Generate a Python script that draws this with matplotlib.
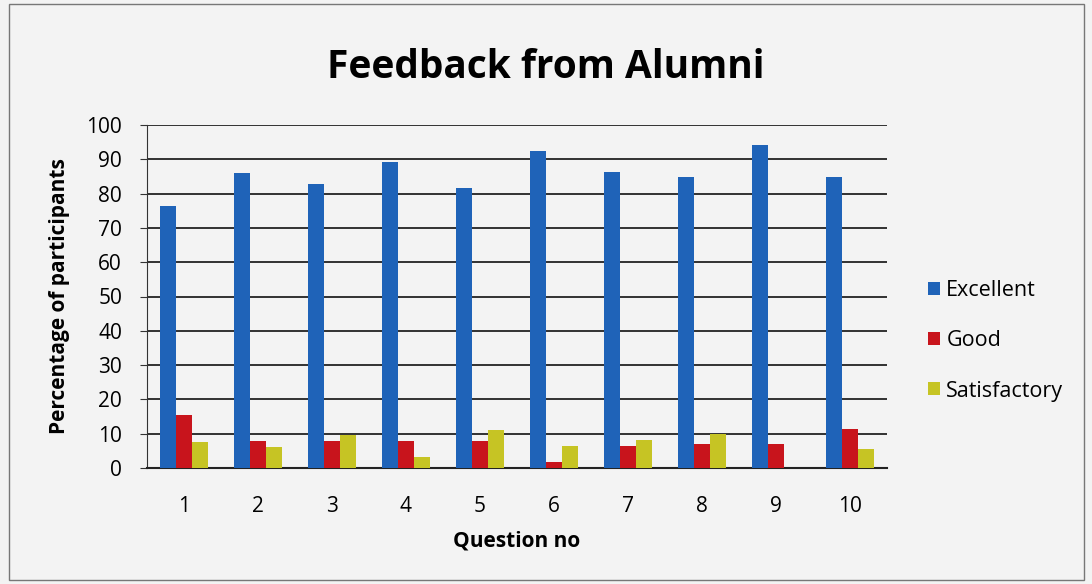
import numpy as np
import matplotlib.pyplot as plt
from matplotlib.patches import Rectangle

questions = ["1", "2", "3", "4", "5", "6", "7", "8", "9", "10"]
excellent = [76.5, 86, 82.7, 89.2, 81.5, 92.4, 86.3, 84.8, 94.3, 84.8]
good = [15.5, 8, 8, 8, 8, 1.8, 6.5, 7, 7, 11.5]
satisfactory = [7.7, 6.2, 9.5, 3.2, 11, 6.5, 8.3, 9.8, 0, 5.4]

series = [("Excellent", excellent, "#1f63b8"),
          ("Good", good, "#c8141c"),
          ("Satisfactory", satisfactory, "#c6c424")]

plt.rcParams['font.family'] = ['Open Sans', 'DejaVu Sans']

W, H = 1092, 584
fig = plt.figure(figsize=(W / 100, H / 100), dpi=100)
fig.patch.set_facecolor("#f3f3f3")
ax = fig.add_axes([147 / W, 1 - 468 / H, 740 / W, 343 / H])
ax.set_facecolor("#f3f3f3")

# outer chart border
fig.add_artist(Rectangle((9 / W, 4 / H), 1075 / W, 576 / H,
                         transform=fig.transFigure, fill=False,
                         edgecolor="#777777", linewidth=1))

x = np.arange(len(questions))
w = 0.22
for i, (name, vals, col) in enumerate(series):
    ax.bar(x + (i - 1) * w, vals, w, color=col, label=name, zorder=3)

ax.set_xlim(-0.5, len(questions) - 0.5)
ax.set_ylim(0, 100)
ax.set_yticks(range(0, 101, 10))
ax.set_xticks(x)
ax.set_xticklabels(questions)
ax.yaxis.grid(True, color="#222222", linewidth=1.3, zorder=0)
ax.tick_params(axis="x", length=0, labelsize=15, pad=20)
ax.tick_params(axis="y", length=5, labelsize=15, color="#333333", pad=13)
for s in ["top", "right"]:
    ax.spines[s].set_visible(False)
ax.spines["left"].set_color("#333333")
ax.spines["bottom"].set_color("#222222")
ax.spines["bottom"].set_linewidth(1.5)

ax.set_xlabel("Question no", fontsize=15, fontweight="bold", labelpad=10)
ax.set_ylabel("Percentage of participants", fontsize=15, fontweight="bold", labelpad=12)
fig.text(0.5, 1 - 68 / H, "Feedback from Alumni", ha="center", va="center",
         fontsize=28, fontweight="bold")

fig.legend(loc="center left", bbox_to_anchor=(928 / W, 1 - 341 / H), frameon=False,
           fontsize=15.5, handlelength=0.55, handleheight=0.55, labelspacing=1.35,
           handletextpad=0.3, borderpad=0, borderaxespad=0)

plt.savefig("out.png", dpi=100, facecolor=fig.get_facecolor())
